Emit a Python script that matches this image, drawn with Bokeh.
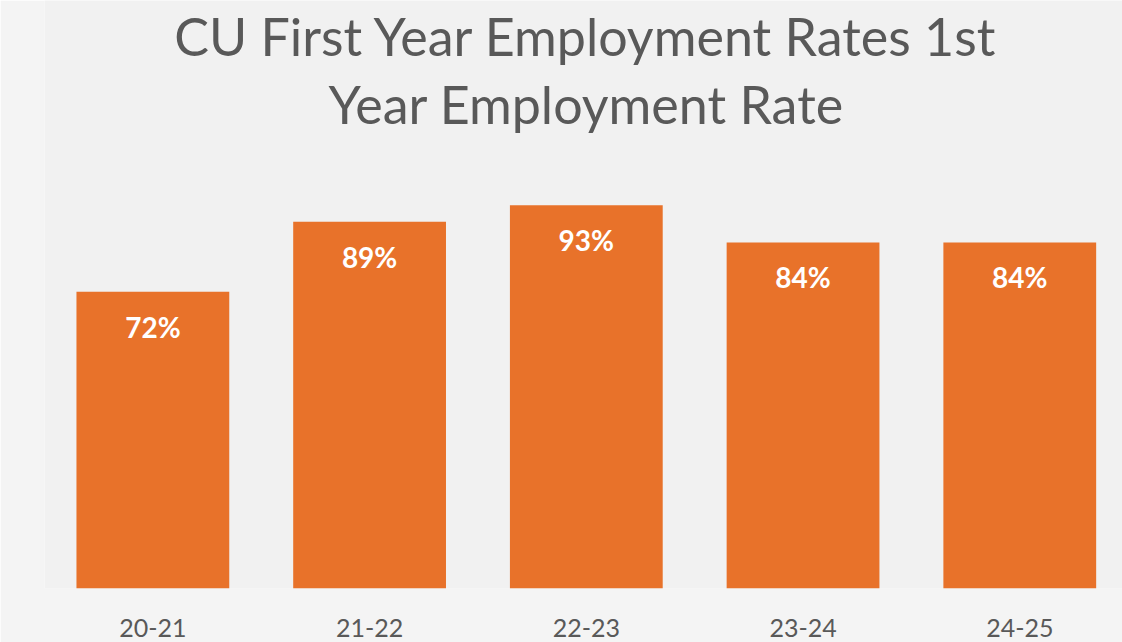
from bokeh.plotting import figure
from bokeh.models import Range1d, FixedTicker, ColumnDataSource
from bokeh.core.properties import value
from bokeh.embed import file_html
from bokeh.resources import INLINE

years = ["20-21", "21-22", "22-23", "23-24", "24-25"]
rates = [72, 89, 93, 84, 84]
labels = [f"{r}%" for r in rates]
title_lines = ["CU First Year Employment Rates 1st", "Year Employment Rate"]

xs = list(range(len(years)))
src = ColumnDataSource(dict(x=xs, top=rates, label=labels))

Y_MAX = 142.7  # headroom above the bars holds the two-line title
p = figure(width=1122, height=642, output_backend="svg", toolbar_location=None,
           x_range=Range1d(-0.5, 4.474), y_range=Range1d(0, Y_MAX),
           min_border_left=44, min_border_right=0, min_border_bottom=54,
           min_border_top=0)
p.title = None
p.background_fill_color = "#f1f1f1"
p.border_fill_color = "#f4f4f4"
p.outline_line_color = None
p.grid.visible = False
p.yaxis.visible = False

p.vbar(x="x", top="top", bottom=0, width=0.705, source=src,
       fill_color="#E8722A", line_color=None)
p.text(x="x", y="top", text="label", source=src, y_offset=35,
       text_align="center", text_baseline="middle", text_color="white",
       text_font=value("Lato"), text_font_style="bold", text_font_size="28px")

# two-line chart title, centred over the middle category
tsrc = ColumnDataSource(dict(x=[xs[2], xs[2]], y=[Y_MAX, Y_MAX], text=title_lines,
                             off=[35, 103]))
p.text(x="x", y="y", text="text", y_offset="off", source=tsrc,
       text_align="center", text_baseline="middle", text_color="#595959",
       text_font=value("Lato"), text_font_size="52px")

p.xaxis.ticker = FixedTicker(ticks=xs)
p.xaxis.major_label_overrides = {i: y for i, y in zip(xs, years)}
p.xaxis.axis_line_color = None
p.xaxis.major_tick_line_color = None
p.xaxis.minor_tick_line_color = None
p.xaxis.major_label_standoff = 24
p.xaxis.major_label_text_font = "Lato"
p.xaxis.major_label_text_font_size = "25px"
p.xaxis.major_label_text_color = "#595959"

open("out.html", "w").write(file_html(p, INLINE))
